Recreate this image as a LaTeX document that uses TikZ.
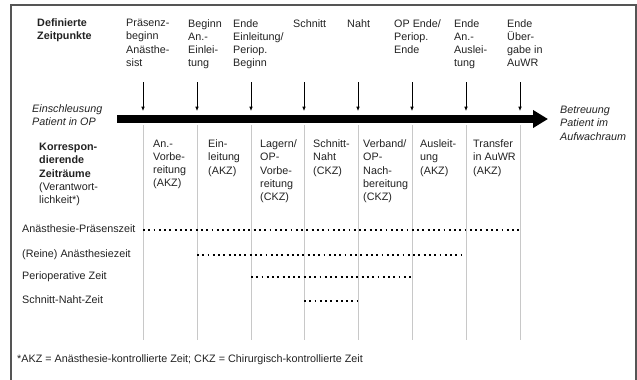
\documentclass[tikz,border=0pt]{standalone}
\usepackage{fontspec}
\setmainfont{Liberation Sans}
\usetikzlibrary{arrows.meta,positioning}
\definecolor{textc}{HTML}{222222}
\definecolor{gridc}{HTML}{C8C8C8}
\definecolor{framec}{HTML}{555555}
\tikzset{
  every node/.style={inner sep=0pt,text=textc,font=\fontsize{9.2}{11.3}\selectfont},
  hd/.style={anchor=north west,align=left,font=\fontsize{9.2}{11.3}\selectfont\bfseries},
  toplbl/.style={anchor=north west,align=left},
  collbl/.style={anchor=north west,align=left},
  side/.style={anchor=north west,align=left,font=\fontsize{9.2}{11.3}\selectfont\itshape},
  rowlbl/.style={anchor=west,text height=7pt,text depth=2pt},
  ptr/.style={-{Latex[length=1.3mm,width=1.1mm]},line width=0.6pt,draw=black},
  gridln/.style={draw=gridc,line width=0.8pt},
  dotln/.style={draw=black,line width=1.6pt,dash pattern=on 1.6pt off 2.9pt},
  bar/.style={-{Triangle[length=12.8pt,width=14.5pt]},line width=6pt,draw=black},
  frame/.style={draw=framec,line width=0.9pt},
}
\begin{document}
\begin{tikzpicture}[x=0.03cm,y=-0.03cm]
  \useasboundingbox (0,0) rectangle (637,379);
  \draw[frame] (11,390) -- (11,5) -- (636,5) -- (636,390);
  % Zeitpunkte oben
  \node[hd] (zt) at (37,18) {Definierte\\Zeitpunkte};
  \node[toplbl] (z0) at (126,19) {Präsenz-\\beginn\\Anästhe-\\sist};
  \node[toplbl] (z1) at (188,19) {Beginn\\An.-\\Einlei-\\tung};
  \node[toplbl] (z2) at (233,19) {Ende\\Einleitung/\\Periop.\\Beginn};
  \node[toplbl] (z3) at (293,19) {Schnitt};
  \node[toplbl] (z4) at (347,19) {Naht};
  \node[toplbl] (z5) at (394,19) {OP Ende/\\Periop.\\Ende};
  \node[toplbl] (z6) at (454,19) {Ende\\An.-\\Auslei-\\tung};
  \node[toplbl] (z7) at (507,19) {Ende\\Über-\\gabe in\\AuWR};
  % Zeitachse
  \coordinate (s) at (117,119);
  \coordinate (e) at (548,119);
  \draw[bar] (s) -- (e);
  \node[side] (ein) at (32,104) {Einschleusung\\Patient in OP};
  \node[side] (aus) at (560,106) {Betreuung\\Patient im\\Aufwachraum};
  \foreach \i/\x in {0/143,1/197,2/251,3/304,4/358,5/412,6/466,7/520} {
    \coordinate (a\i) at (\x,82);
    \coordinate (b\i) at (\x,111);
    \coordinate (u\i) at (\x,125);
    \coordinate (d\i) at (\x,340);
    \draw[ptr] (a\i) -- (b\i);
    \draw[gridln] (u\i) -- (d\i);
  }
  % Zeitraeume
  \node[hd,font=\fontsize{9.2}{11.3}\selectfont] (kz) at (39,143)
    {\textbf{Korrespon-}\\\textbf{dierende}\\\textbf{Zeiträume}\\(Verantwort-\\lichkeit*)};
  \node[collbl] (c0) at (153,139.5) {An.-\\Vorbe-\\reitung\\(AKZ)};
  \node[collbl] (c1) at (208,139.5) {Ein-\\leitung\\(AKZ)};
  \node[collbl] (c2) at (260,139.5) {Lagern/\\OP-\\Vorbe-\\reitung\\(CKZ)};
  \node[collbl] (c3) at (313,139.5) {Schnitt-\\Naht\\(CKZ)};
  \node[collbl] (c4) at (363,139.5) {Verband/\\OP-\\Nach-\\bereitung\\(CKZ)};
  \node[collbl] (c5) at (420,139.5) {Ausleit-\\ung\\(AKZ)};
  \node[collbl] (c6) at (473,139.5) {Transfer\\in AuWR\\(AKZ)};
  % Zeiten
  \node[rowlbl] (r0) at (22,230) {Anästhesie-Präsenszeit};
  \node[rowlbl] (r1) at (22,255) {(Reine) Anästhesiezeit};
  \node[rowlbl] (r2) at (22,277) {Perioperative Zeit};
  \node[rowlbl] (r3) at (22,301) {Schnitt-Naht-Zeit};
  \draw[dotln] (u0 |- r0.west) -- (u7 |- r0.west);
  \draw[dotln] (u1 |- r1.west) -- ([xshift=-3pt]u6 |- r1.west);
  \draw[dotln] (u2 |- r2.west) -- (u5 |- r2.west);
  \draw[dotln] (u3 |- r3.west) -- (u4 |- r3.west);
  \node[rowlbl] (fn) at (17,360) {*AKZ = Anästhesie-kontrollierte Zeit; CKZ = Chirurgisch-kontrollierte Zeit};
\end{tikzpicture}
\end{document}
